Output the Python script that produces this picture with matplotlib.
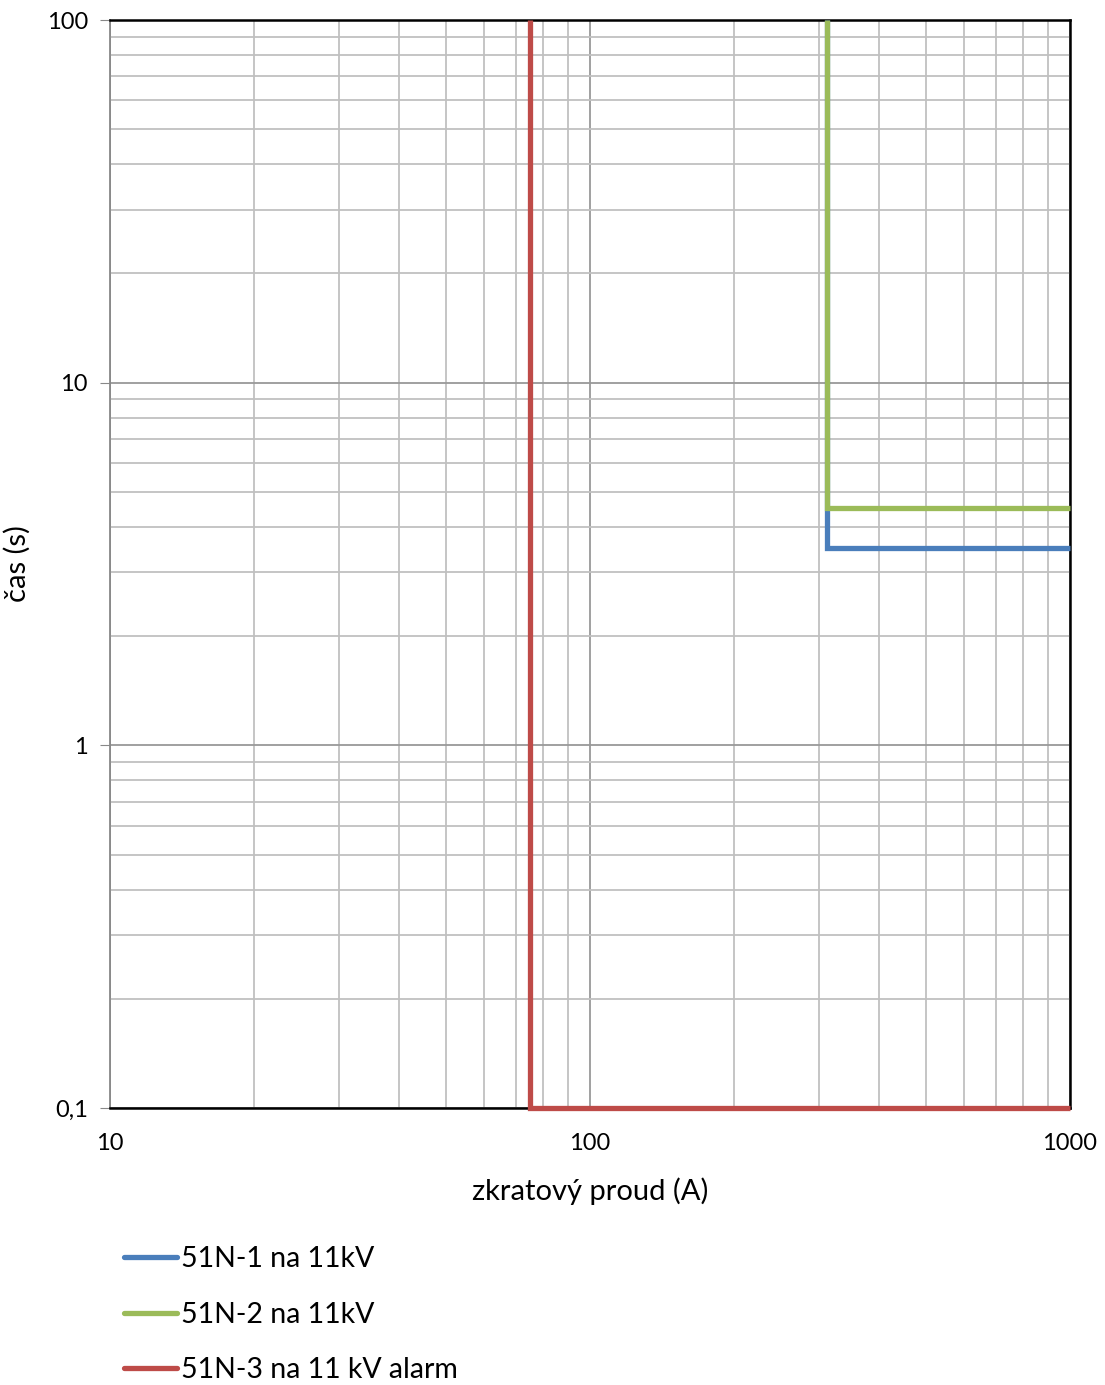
import numpy as np
import matplotlib
matplotlib.use('Agg')
import matplotlib.pyplot as plt
from matplotlib import ticker

plt.rcParams['font.family'] = ['Lato', 'DejaVu Sans']

# curves (current in A, time in s)
labels = ['51N-1 na 11kV', '51N-2 na 11kV', '51N-3 na 11 kV alarm']
colors = ['#4a7ebb', '#9bbb59', '#be4b48']
x_51n1 = [312, 312, 1000]
t_51n1 = [100, 3.5, 3.5]
x_51n2 = [312, 312, 1000]
t_51n2 = [100, 4.5, 4.5]
x_51n3 = [75, 75, 1000]
t_51n3 = [100, 0.1, 0.1]

fig = plt.figure(figsize=(11.05, 13.85), dpi=100)
ax = fig.add_axes([110/1105, 1 - 1108/1385, 960/1105, 1088/1385])

ax.set_xscale('log')
ax.set_yscale('log')
ax.set_xlim(10, 1000)
ax.set_ylim(0.1, 100)

ax.grid(True, which='minor', color='#c0c0c0', lw=1.3)
ax.grid(True, which='major', color='#999999', lw=1.3)
ax.set_axisbelow(True)

lines = []
for xs, ts, c, lab in zip([x_51n1, x_51n2, x_51n3], [t_51n1, t_51n2, t_51n3], colors, labels):
    ln, = ax.plot(xs, ts, color=c, lw=3.8, label=lab, clip_on=False, zorder=5,
                  solid_joinstyle='miter', solid_capstyle='butt')
    lines.append(ln)

fmt = ticker.FuncFormatter(lambda v, p: ('%g' % v).replace('.', ','))
ax.xaxis.set_major_formatter(fmt)
ax.yaxis.set_major_formatter(fmt)
ax.xaxis.set_minor_formatter(ticker.NullFormatter())
ax.yaxis.set_minor_formatter(ticker.NullFormatter())
ax.tick_params(which='minor', length=0)
ax.tick_params(axis='x', which='major', length=0, labelsize=17, pad=18)
ax.tick_params(axis='y', which='major', length=7, color='#888888', labelsize=17, pad=9)

for s in ['top', 'right', 'bottom']:
    ax.spines[s].set_color('black')
    ax.spines[s].set_linewidth(1.8)
ax.spines['left'].set_color('#888888')
ax.spines['left'].set_linewidth(1.3)

ax.set_xlabel('zkratový proud (A)', fontsize=21, labelpad=17)
ax.set_ylabel('čas (s)', fontsize=21)
ax.yaxis.set_label_coords(-0.083, 0.5)

leg = fig.legend(handles=lines, loc='upper left', bbox_to_anchor=(124/1105, 1 - 1246/1385),
                 frameon=False, fontsize=20.5, handlelength=1.86, handletextpad=0.15,
                 labelspacing=1.04, borderpad=0, borderaxespad=0)
for h in leg.legend_handles:
    h.set_linewidth(3.8)
    h.set_solid_capstyle('round')

fig.savefig('out.png', dpi=100)
